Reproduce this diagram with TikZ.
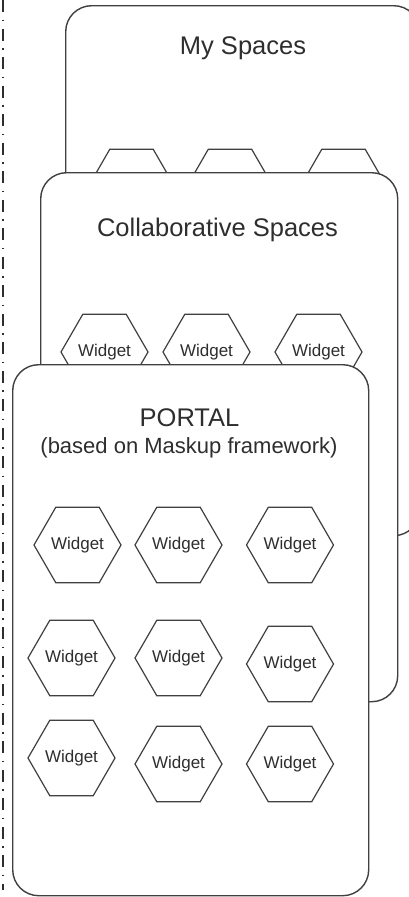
\documentclass[tikz,border=0pt]{standalone}
\usepackage{fontspec}
\setmainfont{Liberation Sans}
\usetikzlibrary{shapes.geometric}
\definecolor{linegray}{HTML}{404040}
\definecolor{textgray}{HTML}{2E2E2E}
\begin{document}
\begin{tikzpicture}[x=1pt,y=-1pt,
  panel/.style={draw=linegray, line width=1.4pt, fill=white, rounded corners=26pt, inner sep=0pt, anchor=north west},
  hexa/.style={regular polygon, regular polygon sides=6, minimum size=87pt, inner sep=0pt,
    draw=linegray, line width=1.2pt, fill=white, text=textgray, font=\fontsize{17}{20}\selectfont},
  bigtitle/.style={text=textgray, inner sep=0pt, font=\fontsize{25.5}{30}\selectfont},
  subtitle/.style={text=textgray, inner sep=0pt, font=\fontsize{22}{26}\selectfont},
  dashdot/.style={draw=textgray, line width=1.4pt, dash pattern=on 12pt off 7.5pt on 1.5pt off 7.5pt}
]
\useasboundingbox (0,0) rectangle (409,897);
\clip (0,0) rectangle (409,897);
\fill[white] (0,0) rectangle (409,897);

% dash-dot separator
\coordinate (dtop) at (3,0);
\coordinate (dbot) at (3,890);
\draw[dashdot] (dtop) -- (dbot);

% My Spaces
\node[panel, minimum width=354pt, minimum height=530pt] (my) at (65,5) {};
\node[bigtitle] (myt) at (243,48) {My Spaces};
\node[hexa] (t1) at (131.5,187) {};
\node[hexa] (t2) at (230,187) {};
\node[hexa] (t3) at (343.5,187) {};

% Collaborative Spaces
\node[panel, minimum width=357pt, minimum height=529pt] (col) at (40,172) {};
\node[bigtitle] (colt) at (217.5,230) {Collaborative Spaces};
\node[hexa] (c1) at (104.5,352) {Widget};
\node[hexa] (c2) at (206.5,352) {Widget};
\node[hexa] (c3) at (318.5,352) {Widget};

% Portal
\node[panel, minimum width=356pt, minimum height=531pt] (por) at (12,364) {};
\node[bigtitle] (port) at (189.5,418) {PORTAL};
\node[subtitle] (pors) at (189,448) {(based on Maskup framework)};

\node[hexa] (p11) at (77.5,545) {Widget};
\node[hexa] (p12) at (178.5,545) {Widget};
\node[hexa] (p13) at (290,545) {Widget};
\node[hexa] (p21) at (71.5,658) {Widget};
\node[hexa] (p22) at (178.5,658) {Widget};
\node[hexa] (p23) at (290,664) {Widget};
\node[hexa] (p31) at (71.5,758) {Widget};
\node[hexa] (p32) at (178.5,764) {Widget};
\node[hexa] (p33) at (290,764) {Widget};
\end{tikzpicture}
\end{document}
